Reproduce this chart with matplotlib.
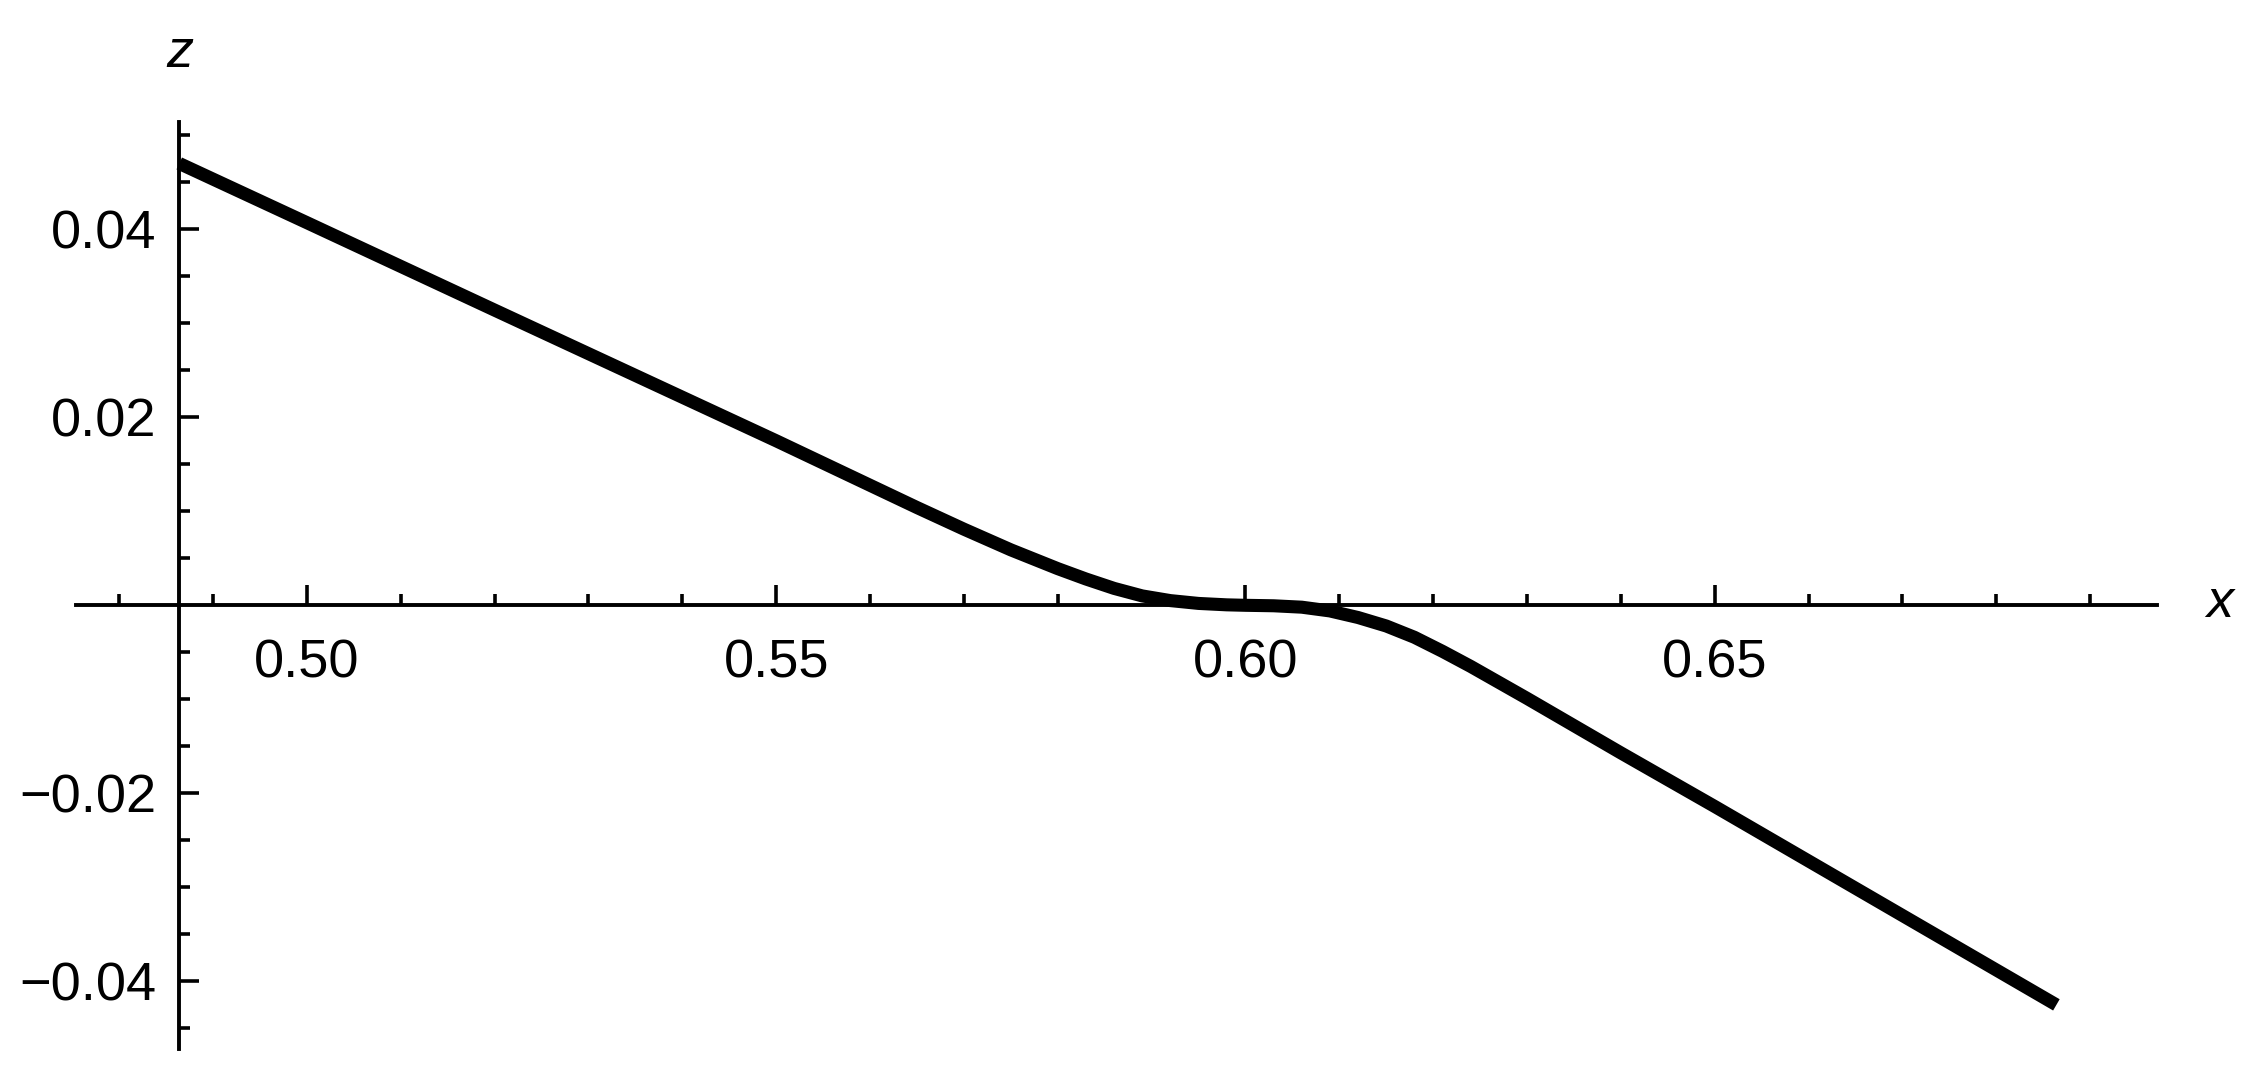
import matplotlib
matplotlib.use("Agg")
import matplotlib.pyplot as plt

# ----------------------------------------------------------------------
# DATA
# ----------------------------------------------------------------------
x_vals = [0.4864, 0.500, 0.520, 0.550, 0.565, 0.570, 0.575, 0.580, 0.583,
          0.586, 0.589, 0.592, 0.595, 0.598, 0.600, 0.603, 0.606, 0.609,
          0.612, 0.615, 0.618, 0.621, 0.624, 0.627, 0.630, 0.635, 0.640,
          0.650, 0.6864]
z_vals = [0.0470, 0.0407, 0.0314, 0.0175, 0.0104, 0.0081, 0.0059, 0.0039,
          0.0028, 0.0018, 0.0010, 0.0005, 0.0002, 0.00005, 0.0000,
          -0.00005, -0.0002, -0.0006, -0.0013, -0.0022, -0.0034, -0.0049,
          -0.0065, -0.0082, -0.0099, -0.0128, -0.0157, -0.0214, -0.0425]

x_major = [0.50, 0.55, 0.60, 0.65]
x_major_labels = ["0.50", "0.55", "0.60", "0.65"]
x_minor = [0.48, 0.49, 0.51, 0.52, 0.53, 0.54, 0.56, 0.57, 0.58, 0.59,
           0.61, 0.62, 0.63, 0.64, 0.66, 0.67, 0.68, 0.69]
z_major = [-0.04, -0.02, 0.02, 0.04]
z_major_labels = ["\u22120.04", "\u22120.02", "0.02", "0.04"]
z_minor = [-0.045, -0.035, -0.03, -0.025, -0.015, -0.01, -0.005,
           0.005, 0.01, 0.015, 0.025, 0.03, 0.035, 0.045, 0.05]

X_LIM = (0.4754, 0.6971)
Z_LIM = (-0.0472, 0.0514)
Y_AXIS_AT = 0.4864

# ----------------------------------------------------------------------
# PLOT
# ----------------------------------------------------------------------
plt.rcParams["font.family"] = ["Liberation Sans", "DejaVu Sans"]
plt.rcParams["font.size"] = 19.5

fig = plt.figure(figsize=(11.31, 5.44), dpi=200)
ax = fig.add_axes([0.0336, 0.0358, 0.9199, 0.852])

ax.plot(x_vals, z_vals, color="black", lw=4.7, solid_capstyle="butt",
        solid_joinstyle="round", clip_on=False)

ax.set_xlim(*X_LIM)
ax.set_ylim(*Z_LIM)

ax.spines["top"].set_visible(False)
ax.spines["right"].set_visible(False)
ax.spines["bottom"].set_position(("data", 0))
ax.spines["left"].set_position(("data", Y_AXIS_AT))
for s in ("bottom", "left"):
    ax.spines[s].set_linewidth(1.4)

ax.set_xticks(x_major)
ax.set_xticklabels(x_major_labels)
ax.set_xticks(x_minor, minor=True)
ax.set_yticks(z_major)
ax.set_yticklabels(z_major_labels)
ax.set_yticks(z_minor, minor=True)

ax.tick_params(axis="x", which="major", direction="in", length=7.2, width=1.3, pad=12.0)
ax.tick_params(axis="x", which="minor", direction="in", length=4.0, width=1.3)
ax.tick_params(axis="y", which="major", direction="in", length=7.2, width=1.3, pad=8.3)
ax.tick_params(axis="y", which="minor", direction="in", length=4.0, width=1.3)

ax.text(0.7038, 0.0002, "x", style="italic", ha="center", va="center", clip_on=False)
ax.text(0.4865, 0.0588, "z", style="italic", ha="center", va="center", clip_on=False)

fig.savefig("out.png", dpi=200, facecolor="white")
